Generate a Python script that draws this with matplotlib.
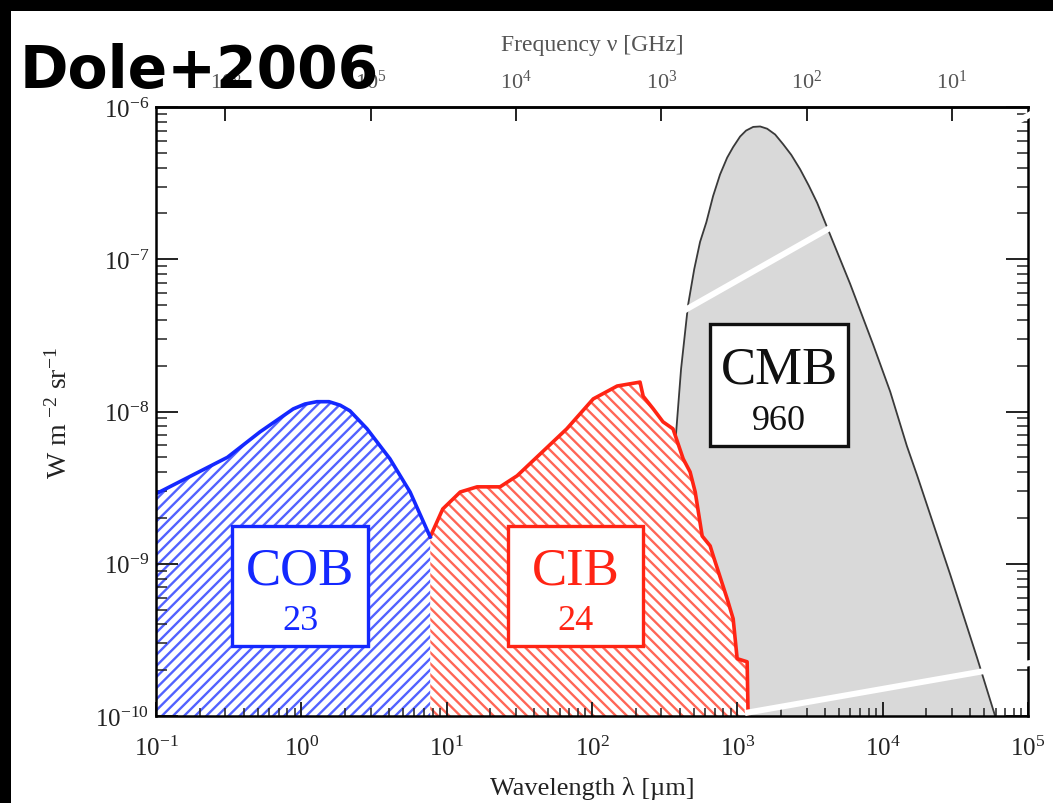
import numpy as np
import matplotlib
matplotlib.use('Agg')
import matplotlib.pyplot as plt
from matplotlib.patches import Rectangle
from matplotlib.lines import Line2D
from matplotlib.ticker import LogLocator, NullFormatter, NullLocator

plt.rcParams['font.family'] = ['Liberation Serif', 'DejaVu Serif']
plt.rcParams['mathtext.fontset'] = 'custom'
plt.rcParams['mathtext.rm'] = 'Liberation Serif'
plt.rcParams['mathtext.it'] = 'Liberation Serif:italic'
plt.rcParams['hatch.linewidth'] = 1.7

# ---------------- data ----------------
# Cosmic Optical Background: wavelength [um], nu I_nu [W m^-2 sr^-1]
cob_wl = [0.1, 0.31, 0.52, 0.88, 1.06, 1.28, 1.55, 1.85, 2.16, 2.83, 4.07, 5.6, 7.7]
cob_val = [2.88e-9, 5.0e-9, 7.35e-9, 1.04e-8, 1.12e-8, 1.16e-8, 1.16e-8, 1.10e-8,
           1.01e-8, 7.7e-9, 4.89e-9, 2.96e-9, 1.50e-9]

# Cosmic Infrared Background
cib_wl = [7.7, 9.4, 12.4, 16.2, 23.3, 30.5, 67, 102, 149, 214, 225, 264, 308, 361,
          424, 473, 513, 573, 650, 682, 851, 936, 997, 1168, 1186]
cib_val = [1.50e-9, 2.29e-9, 2.96e-9, 3.2e-9, 3.2e-9, 3.78e-9, 7.69e-9, 1.21e-8,
           1.47e-8, 1.56e-8, 1.26e-8, 1.04e-8, 8.55e-9, 7.69e-9, 4.89e-9, 4.01e-9,
           2.96e-9, 1.52e-9, 1.31e-9, 1.13e-9, 5.89e-10, 4.35e-10, 2.38e-10,
           2.27e-10, 1.0e-10]

# Cosmic Microwave Background
cmb_wl = [276, 313, 345, 373, 410, 458, 505, 554, 612, 681, 760, 851, 935, 1045,
          1148, 1285, 1436, 1604, 1820, 2065, 2350, 2704, 3100, 3540, 4350, 5970,
          8600, 11270, 14670, 17270, 22000, 29150, 44700, 59400]
cmb_val = [1e-10, 5.9e-10, 2.67e-9, 5.94e-9, 1.9e-8, 5.0e-8, 8.6e-8, 1.3e-7, 1.75e-7,
           2.6e-7, 3.6e-7, 4.65e-7, 5.45e-7, 6.4e-7, 7.0e-7, 7.4e-7, 7.45e-7, 7.2e-7,
           6.6e-7, 5.7e-7, 4.85e-7, 3.9e-7, 3.05e-7, 2.35e-7, 1.45e-7, 6.9e-8,
           2.75e-8, 1.35e-8, 5.94e-9, 3.8e-9, 1.9e-9, 8.5e-10, 2.4e-10, 1e-10]

box_names = ['COB', 'CIB', 'CMB']
box_values = ['23', '24', '960']

x_ticks = [1e-1, 1e0, 1e1, 1e2, 1e3, 1e4, 1e5]
x_tick_labels = [r'$\mathregular{10^{-1}}$', r'$\mathregular{10^{0}}$', r'$\mathregular{10^{1}}$',
                 r'$\mathregular{10^{2}}$', r'$\mathregular{10^{3}}$', r'$\mathregular{10^{4}}$',
                 r'$\mathregular{10^{5}}$']
y_ticks = [1e-10, 1e-9, 1e-8, 1e-7, 1e-6]
y_tick_labels = [r'$\mathregular{10^{-10}}$', r'$\mathregular{10^{-9}}$', r'$\mathregular{10^{-8}}$',
                 r'$\mathregular{10^{-7}}$', r'$\mathregular{10^{-6}}$']
nu_ticks = [1e6, 1e5, 1e4, 1e3, 1e2, 1e1]
nu_tick_labels = [r'$\mathregular{10^{6}}$', r'$\mathregular{10^{5}}$', r'$\mathregular{10^{4}}$',
                  r'$\mathregular{10^{3}}$', r'$\mathregular{10^{2}}$', r'$\mathregular{10^{1}}$']

# ---------------- figure ----------------
fig = plt.figure(figsize=(10.53, 8.04), dpi=100)
fig.patch.set_facecolor('white')
ax = fig.add_axes([0.14815, 0.10821, 0.82811, 0.75746])
ax.set_xscale('log')
ax.set_yscale('log')
ax.set_xlim(1e-1, 1e5)
ax.set_ylim(1e-10, 1e-6)

blue_line = '#1428ff'
blue_hatch = '#5262ff'
red_line = '#ff2414'
red_hatch = '#ff6656'

ax.fill_between(cmb_wl, cmb_val, 1e-12, facecolor='#d9d9d9', edgecolor='none', zorder=1)
ax.plot(cmb_wl, cmb_val, color='#3a3a3a', lw=1.3, zorder=1.2)

ax.fill_between(cib_wl, cib_val, 1e-12, facecolor='white', edgecolor=red_hatch,
                hatch='\\\\\\', linewidth=0, zorder=1.5)
ax.plot(cib_wl, cib_val, color=red_line, lw=2.6, zorder=2, solid_joinstyle='round')

ax.fill_between(cob_wl, cob_val, 1e-12, facecolor='white', edgecolor=blue_hatch,
                hatch='///', linewidth=0, zorder=1.5)
ax.plot(cob_wl, cob_val, color=blue_line, lw=2.6, zorder=2, solid_joinstyle='round')

for sp in ax.spines.values():
    sp.set_linewidth(1.8)
    sp.set_zorder(3)

ax.set_xticks(x_ticks, x_tick_labels)
ax.set_yticks(y_ticks, y_tick_labels)
ax.xaxis.set_minor_locator(LogLocator(base=10, subs=np.arange(2, 10), numticks=20))
ax.yaxis.set_minor_locator(LogLocator(base=10, subs=np.arange(2, 10), numticks=20))
ax.xaxis.set_minor_formatter(NullFormatter())
ax.yaxis.set_minor_formatter(NullFormatter())
ax.tick_params(which='both', direction='in', top=False, right=True, color='#222')
ax.tick_params(axis='x', which='major', length=10, width=1.4, labelsize=18, pad=14,
               labelcolor='#222')
ax.tick_params(axis='x', which='minor', length=6, width=1.1)
ax.tick_params(axis='y', which='major', length=16, width=1.4, labelsize=18, pad=5,
               labelcolor='#222')
ax.tick_params(axis='y', which='minor', length=8, width=1.1)

ax.set_xlabel('Wavelength λ [µm]', fontsize=19, color='#222', labelpad=12)
ax.set_ylabel(r'W m $^{\mathregular{-2}}$ sr$^{\mathregular{-1}}$', fontsize=20,
              color='#222', labelpad=16)

secax = ax.secondary_xaxis('top', functions=(lambda w: 3e5 / np.maximum(w, 1e-30),
                                             lambda n: 3e5 / np.maximum(n, 1e-30)))
secax.set_xticks(nu_ticks, nu_tick_labels)
secax.xaxis.set_minor_locator(NullLocator())
secax.tick_params(direction='in', length=10, width=1.4, labelsize=16,
                  labelcolor='#555', color='#222', pad=10)
secax.spines['top'].set_linewidth(1.8)
secax.set_xlabel('Frequency ν [GHz]', fontsize=17, color='#555', labelpad=14)

# boxes with labels
box_geom = [(0.0872, 0.2431), (0.4037, 0.5585), (0.6353, 0.7936)]
box_y = [(0.115, 0.312), (0.115, 0.312), (0.4433, 0.6437)]
box_colors = [blue_line, red_line, '#111111']
for name, val, (x0, x1), (y0, y1), c in zip(box_names, box_values, box_geom, box_y, box_colors):
    ax.add_patch(Rectangle((x0, y0), x1 - x0, y1 - y0, transform=ax.transAxes,
                           facecolor='white', edgecolor=c, lw=2.4, zorder=4))
    xc = 0.5 * (x0 + x1)
    h = y1 - y0
    ax.text(xc, y0 + 0.63 * h, name, transform=ax.transAxes, ha='center', va='center',
            fontsize=38, color=c, zorder=5)
    ax.text(xc, y0 + 0.21 * h, val, transform=ax.transAxes, ha='center', va='center',
            fontsize=26, color=c, zorder=5)

# black frame bands of the screenshot
fig.add_artist(Rectangle((0, 0), 11 / 1053, 1, transform=fig.transFigure,
                         facecolor='black', edgecolor='none', zorder=30))
fig.add_artist(Rectangle((0, 1 - 12 / 804), 1, 12 / 804, transform=fig.transFigure,
                         facecolor='black', edgecolor='none', zorder=30))

# white zoom lines
fig.add_artist(Line2D([0.6268, 1.0], [0.5955, 0.8726], transform=fig.transFigure,
                      color='white', lw=4.3, solid_capstyle='butt', zorder=25))
fig.add_artist(Line2D([0.7075, 1.0], [0.1119, 0.1791], transform=fig.transFigure,
                      color='white', lw=4.3, solid_capstyle='butt', zorder=25))

fig.text(0.019, 0.8905, 'Dole+2006', fontsize=42, fontweight='bold',
         family='DejaVu Sans', color='black', va='baseline', ha='left', zorder=40)

fig.savefig('out.png', dpi=100, facecolor='white')
